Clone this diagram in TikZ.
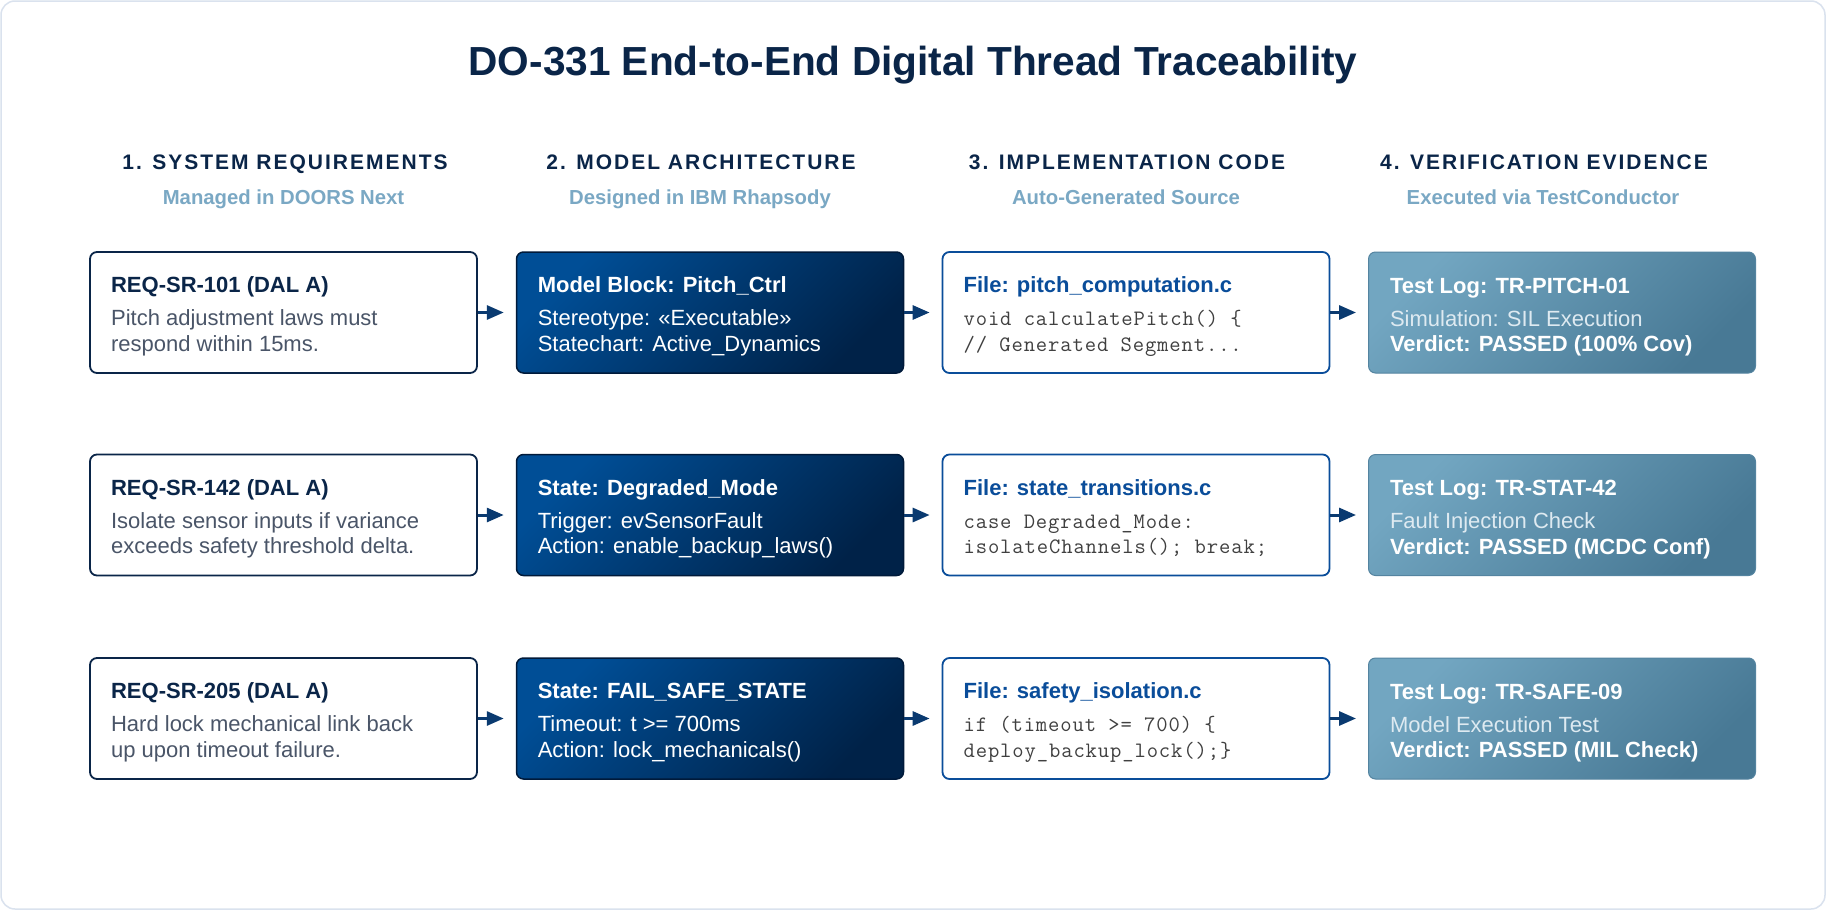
\documentclass[tikz,border=0pt]{standalone}
\usepackage{fontspec}
\setmainfont{Liberation Sans}
\newfontfamily\hdfont[LetterSpace=9.5]{Liberation Sans}
\newfontfamily\codefont[LetterSpace=4]{Latin Modern Mono}
\usetikzlibrary{arrows.meta,calc}
\definecolor{navy}{RGB}{10,37,72}
\definecolor{subblue}{RGB}{122,168,196}
\definecolor{bodygray}{RGB}{74,85,104}
\definecolor{fileblue}{RGB}{10,77,154}
\definecolor{codegray}{RGB}{64,64,64}
\definecolor{mdlA}{RGB}{0,78,150}
\definecolor{mdlB}{RGB}{0,34,72}
\definecolor{mdlborder}{RGB}{0,26,58}
\definecolor{verA}{RGB}{114,166,193}
\definecolor{verB}{RGB}{72,121,149}
\definecolor{verborder}{RGB}{84,132,160}
\definecolor{verlight}{RGB}{222,234,241}
\definecolor{arrowblue}{RGB}{10,58,112}
\definecolor{framegray}{RGB}{218,226,238}
\tikzset{
  txt/.style={inner sep=0pt, outer sep=0pt, anchor=base west},
  cardbase/.style={rounded corners=7pt, minimum width=387pt, minimum height=121pt, inner sep=0pt},
  req-box/.style={cardbase, draw=navy, line width=1.8pt, fill=white},
  req-h/.style={txt, text=navy, font=\fontsize{22}{26}\selectfont\bfseries},
  req-a/.style={txt, text=bodygray, font=\fontsize{22}{26}\selectfont},
  req-b/.style={req-a},
  mdl-box/.style={cardbase, draw=mdlborder, line width=1.5pt, left color=mdlA, right color=mdlB, shading angle=45},
  mdl-h/.style={txt, text=white, font=\fontsize{22}{26}\selectfont\bfseries},
  mdl-a/.style={txt, text=white, font=\fontsize{22}{26}\selectfont},
  mdl-b/.style={mdl-a},
  cod-box/.style={cardbase, draw=fileblue, line width=1.8pt, fill=white},
  cod-h/.style={txt, text=fileblue, font=\fontsize{22}{26}\selectfont\bfseries},
  cod-a/.style={txt, text=codegray, font=\fontsize{22}{26}\codefont},
  cod-b/.style={cod-a},
  ver-box/.style={cardbase, draw=verborder, line width=1pt, left color=verA, right color=verB, shading angle=45},
  ver-h/.style={txt, text=white, font=\fontsize{22}{26}\selectfont\bfseries},
  ver-a/.style={txt, text=verlight, font=\fontsize{22}{26}\selectfont},
  ver-b/.style={txt, text=white, font=\fontsize{22}{26}\selectfont\bfseries},
  flow/.style={draw=arrowblue, line width=3pt, -{Triangle[length=17pt,width=14pt]}, shorten >=12pt},
  maintitle/.style={inner sep=0pt, anchor=base, text=navy, font=\fontsize{40.6}{48}\selectfont\bfseries},
  colhead/.style={inner sep=0pt, anchor=base, text=navy, font=\fontsize{21}{25}\hdfont\bfseries},
  colsub/.style={inner sep=0pt, anchor=base, text=subblue, font=\fontsize{20.3}{24}\selectfont\bfseries},
}
% #1 name, #2 position, #3 kind, #4 heading, #5 line 1, #6 line 2
\newcommand{\card}[6]{%
  \node[#3-box] (#1) at (#2) {};
  \node[#3-h] (#1-h) at ($(#1.north west)+(22,41.5)$) {#4};
  \node[#3-a] (#1-a) at ($(#1.north west)+(22,74.5)$) {#5};
  \node[#3-b] (#1-b) at ($(#1.north west)+(22,100)$) {#6};
}
\begin{document}
\begin{tikzpicture}[x=1pt, y=-1pt]
\useasboundingbox (0,0) rectangle (1826,910);
\fill[white] (0,0) rectangle (1826,910);
\draw[draw=framegray, line width=1.5pt, rounded corners=14pt] (1,1) rectangle (1825,909);

\node[maintitle] (title) at (913,75) {DO-331 End-to-End Digital Thread Traceability};

\node[colhead] (c1) at (285,169) {1. SYSTEM REQUIREMENTS};
\node[colhead] (c2) at (701,169) {2. MODEL ARCHITECTURE};
\node[colhead] (c3) at (1127,169) {3. IMPLEMENTATION CODE};
\node[colhead] (c4) at (1544,169) {4. VERIFICATION EVIDENCE};
\node[colsub] (s1) at (283.5,204.3) {Managed in DOORS Next};
\node[colsub] (s2) at (700,204.3) {Designed in IBM Rhapsody};
\node[colsub] (s3) at (1126,204.3) {Auto-Generated Source};
\node[colsub] (s4) at (1543,204.3) {Executed via TestConductor};

% row 1
\card{r1a}{283.5,312.5}{req}{REQ-SR-101 (DAL A)}{Pitch adjustment laws must}{respond within 15ms.}
\card{r1b}{710,312.5}{mdl}{Model Block: Pitch\_Ctrl}{Stereotype: «Executable»}{Statechart: Active\_Dynamics}
\card{r1c}{1136,312.5}{cod}{File: pitch\_computation.c}{void calculatePitch() \{}{// Generated Segment...}
\card{r1d}{1562,312.5}{ver}{Test Log: TR-PITCH-01}{Simulation: SIL Execution}{Verdict: PASSED (100\% Cov)}
% row 2
\card{r2a}{283.5,515}{req}{REQ-SR-142 (DAL A)}{Isolate sensor inputs if variance}{exceeds safety threshold delta.}
\card{r2b}{710,515}{mdl}{State: Degraded\_Mode}{Trigger: evSensorFault}{Action: enable\_backup\_laws()}
\card{r2c}{1136,515}{cod}{File: state\_transitions.c}{case Degraded\_Mode:}{isolateChannels(); break;}
\card{r2d}{1562,515}{ver}{Test Log: TR-STAT-42}{Fault Injection Check}{Verdict: PASSED (MCDC Conf)}
% row 3
\card{r3a}{283.5,718.5}{req}{REQ-SR-205 (DAL A)}{Hard lock mechanical link back}{up upon timeout failure.}
\card{r3b}{710,718.5}{mdl}{State: FAIL\_SAFE\_STATE}{Timeout: t >= 700ms}{Action: lock\_mechanicals()}
\card{r3c}{1136,718.5}{cod}{File: safety\_isolation.c}{if (timeout >= 700) \{}{deploy\_backup\_lock();\}}
\card{r3d}{1562,718.5}{ver}{Test Log: TR-SAFE-09}{Model Execution Test}{Verdict: PASSED (MIL Check)}

\foreach \r in {r1,r2,r3}{
  \draw[flow] (\r a) -- (\r b);
  \draw[flow] (\r b) -- (\r c);
  \draw[flow] (\r c) -- (\r d);
}
\end{tikzpicture}
\end{document}
